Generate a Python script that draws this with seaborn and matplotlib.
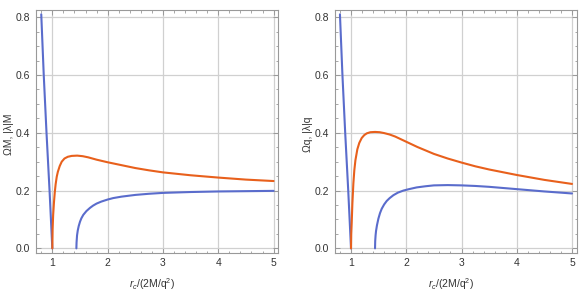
import matplotlib
matplotlib.use('Agg')
import matplotlib.pyplot as plt
import pandas as pd
import seaborn as sns
from matplotlib.ticker import MultipleLocator

sns.set_style('ticks')
plt.rcParams['font.family'] = ['Liberation Sans', 'DejaVu Sans']
plt.rcParams['mathtext.fontset'] = 'custom'
plt.rcParams['mathtext.rm'] = 'Liberation Sans'
plt.rcParams['mathtext.it'] = 'Liberation Sans:italic'

BLUE = '#5a6ccc'
ORANGE = '#e8601c'

# steep branch below r_c = 1 (same in both panels)
blue_a_x = [0.80, 0.845, 0.895, 0.95, 0.975, 1.0]
blue_a_y = [0.81, 0.60, 0.40, 0.20, 0.10, 0.0]

# left panel: Omega M, |lambda| M
left_orange_x = [1.0, 1.005, 1.015, 1.03, 1.045, 1.06, 1.08, 1.10, 1.134, 1.17,
                 1.22, 1.28, 1.35, 1.45, 1.55, 1.65, 1.8, 2.0, 2.2, 2.5, 2.75,
                 3.0, 3.5, 4.0, 4.5, 5.0]
left_orange_y = [0.0, 0.065, 0.115, 0.160, 0.195, 0.222, 0.248, 0.265, 0.285, 0.300,
                 0.311, 0.317, 0.320, 0.321, 0.319, 0.315, 0.307, 0.298, 0.290, 0.278,
                 0.270, 0.263, 0.253, 0.245, 0.238, 0.233]
left_blue_x = [1.435, 1.438, 1.447, 1.46, 1.477, 1.50, 1.525, 1.56, 1.616, 1.68,
               1.737, 1.8, 1.887, 2.0, 2.1, 2.25, 2.5, 2.75, 3.0, 3.5, 4.0, 4.5, 5.0]
left_blue_y = [0.0, 0.020, 0.045, 0.062, 0.077, 0.092, 0.104, 0.116, 0.129, 0.140,
               0.148, 0.155, 0.162, 0.169, 0.174, 0.179, 0.185, 0.189, 0.192, 0.195,
               0.197, 0.198, 0.199]

# right panel: Omega q, |lambda| q
right_orange_x = [1.0, 1.004, 1.013, 1.025, 1.043, 1.06, 1.08, 1.115, 1.15, 1.194,
                  1.24, 1.285, 1.35, 1.435, 1.52, 1.6, 1.7, 1.8, 1.9, 2.0, 2.2, 2.5,
                  2.75, 3.0, 3.25, 3.5, 4.0, 4.5, 5.0]
right_orange_y = [0.0, 0.050, 0.090, 0.155, 0.225, 0.270, 0.305, 0.343, 0.365, 0.382,
                  0.392, 0.398, 0.402, 0.403, 0.402, 0.399, 0.394, 0.387, 0.378, 0.369,
                  0.351, 0.327, 0.311, 0.297, 0.284, 0.273, 0.254, 0.237, 0.223]
right_blue_x = [1.435, 1.438, 1.445, 1.453, 1.47, 1.496, 1.525, 1.556, 1.6, 1.646,
                1.7, 1.767, 1.85, 1.948, 2.05, 2.19, 2.35, 2.5, 2.75, 3.0, 3.25, 3.5,
                3.75, 4.0, 4.5, 5.0]
right_blue_y = [0.0, 0.025, 0.045, 0.060, 0.080, 0.103, 0.122, 0.137, 0.152, 0.164,
                0.174, 0.184, 0.193, 0.200, 0.205, 0.211, 0.215, 0.218, 0.219, 0.218,
                0.216, 0.213, 0.209, 0.205, 0.197, 0.190]

x_ticks = [1, 2, 3, 4, 5]
y_ticks = [0.0, 0.2, 0.4, 0.6, 0.8]
x_label = r'$r_c$/(2M/q$^2$)'
y_labels = ['ΩM, |λ|M', 'Ωq, |λ|q']

fig = plt.figure(figsize=(5.81, 3.04), dpi=100)
ax_l = fig.add_axes([36 / 581, 1 - 252.7 / 304, 242.3 / 581, 242.7 / 304])
ax_r = fig.add_axes([334.7 / 581, 1 - 252.7 / 304, 242.0 / 581, 242.7 / 304])

panels = [
    (ax_l, left_orange_x, left_orange_y, left_blue_x, left_blue_y, y_labels[0]),
    (ax_r, right_orange_x, right_orange_y, right_blue_x, right_blue_y, y_labels[1]),
]

for ax, ox, oy, bx, by, ylab in panels:
    segs = [(blue_a_x, blue_a_y, BLUE), (ox, oy, ORANGE), (bx, by, BLUE)]
    for sx, sy, col in segs:
        d = pd.DataFrame({'x': sx, 'y': sy})
        sns.lineplot(data=d, x='x', y='y', ax=ax, color=col, lw=1.5,
                     sort=False, estimator=None)

    ax.set_xlim(0.705, 5.085)
    ax.set_ylim(-0.015, 0.825)
    ax.set_xticks(x_ticks)
    ax.set_yticks(y_ticks)
    ax.set_yticklabels([f'{v:.1f}' for v in y_ticks])
    ax.xaxis.set_minor_locator(MultipleLocator(0.2))
    ax.yaxis.set_minor_locator(MultipleLocator(0.05))
    ax.grid(True, which='major', color='#d0d0d0', lw=0.9)
    ax.set_axisbelow(True)
    ax.tick_params(which='both', direction='in', top=True, right=True,
                   color='#999999', labelsize=7.5, labelcolor='#333333', pad=4)
    ax.tick_params(which='major', length=3.5, width=0.7)
    ax.tick_params(which='minor', length=1.8, width=0.6)
    for sp in ax.spines.values():
        sp.set_color('#999999')
        sp.set_linewidth(0.8)

    ax.set_xlabel(x_label, fontsize=7.5, color='#333333')
    ax.set_ylabel(ylab, fontsize=7.5, color='#333333')
    ax.xaxis.set_label_coords(0.48, -0.095)
    ax.yaxis.set_label_coords(-0.09, 0.49)

fig.savefig('out.png', dpi=100)
